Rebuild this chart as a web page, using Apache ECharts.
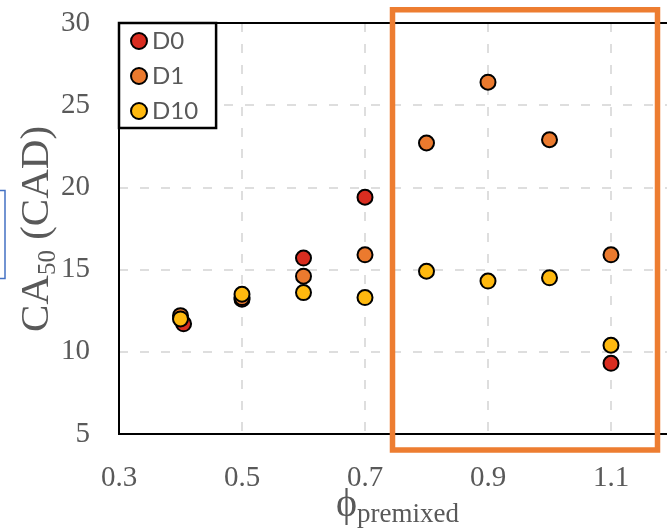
<!DOCTYPE html>
<html>
<head>
<meta charset="utf-8">
<script src="https://cdn.jsdelivr.net/npm/echarts@6/dist/echarts.min.js"></script>
<style>html,body{margin:0;padding:0;background:#fff}#c{width:667px;height:530px}</style>
</head>
<body>
<div id="c"></div>
<script>
// ---- data ----
const seriesNames = ['D0', 'D1', 'D10'];
const d0X = [0.405, 0.5, 0.6, 0.7, 1.1];
const d0Y = [11.7, 13.2, 15.7, 19.4, 9.3];
const d1X = [0.4, 0.5, 0.6, 0.7, 0.8, 0.9, 1.0, 1.1];
const d1Y = [12.2, 13.3, 14.6, 15.9, 22.7, 26.4, 22.9, 15.9];
const d10X = [0.4, 0.5, 0.6, 0.7, 0.8, 0.9, 1.0, 1.1];
const d10Y = [12.0, 13.5, 13.6, 13.3, 14.9, 14.3, 14.5, 10.4];
const xTicks = [0.3, 0.5, 0.7, 0.9, 1.1, 1.3];
const yTicks = [5, 10, 15, 20, 25, 30];

const colors = ['#D92D20', '#EB7A2E', '#FFB90F'];
const pairs = (xs, ys) => xs.map((x, i) => [x, ys[i]]);
const seriesData = [pairs(d0X, d0Y), pairs(d1X, d1Y), pairs(d10X, d10Y)];

const chart = echarts.init(document.getElementById('c'), null, {renderer: 'canvas'});
const serif = '"Liberation Serif", "Times New Roman", serif';
const gray = '#595959';
const gridLine = {show: true, showMinLine: false, showMaxLine: false,
  lineStyle: {color: '#D4D4D4', width: 1.5, type: [9, 12]}};

chart.setOption({
  animation: false,
  backgroundColor: '#fff',
  grid: {left: 119, right: -67, top: 23, bottom: 96, outerBoundsMode: 'none', containLabel: false,
    show: true, borderColor: '#000', borderWidth: 2, backgroundColor: 'transparent', z: 10},
  xAxis: {
    type: 'value', min: xTicks[0], max: xTicks[xTicks.length - 1], interval: 0.2,
    axisLine: {show: true, lineStyle: {color: '#000', width: 2}},
    axisTick: {show: false},
    splitLine: gridLine,
    axisLabel: {color: gray, fontFamily: serif, fontSize: 29, margin: 30, showMaxLabel: false,
      formatter: v => xTicks.find(t => Math.abs(t - v) < 1e-6).toFixed(1)}
  },
  yAxis: {
    type: 'value', min: yTicks[0], max: yTicks[yTicks.length - 1], interval: 5,
    axisLine: {show: true, lineStyle: {color: '#000', width: 2}},
    axisTick: {show: false},
    splitLine: gridLine,
    axisLabel: {color: gray, fontFamily: serif, fontSize: 29, margin: 29}
  },
  legend: {
    data: seriesNames, orient: 'vertical', left: 119, top: 23,
    icon: 'circle', itemWidth: 16, itemHeight: 16, itemGap: 11, itemTextGap: 12,
    padding: [6, 18, 5, 11],
    backgroundColor: '#fff', borderColor: '#000', borderWidth: 2.5,
    textStyle: {color: gray, fontFamily: 'Lato, "Open Sans", sans-serif', fontSize: 24, lineHeight: 24}
  },
  series: seriesNames.map((n, i) => ({
    name: n, type: 'scatter', data: seriesData[i], symbol: 'circle', symbolSize: 15,
    itemStyle: {color: colors[i], borderColor: '#000', borderWidth: 2, opacity: 1},
    z: 3 + i
  })),
  graphic: [
    {type: 'line', shape: {x1: 118, y1: 23, x2: 667, y2: 23},
      style: {stroke: '#000', lineWidth: 2}, z: 50},
    {type: 'rect', shape: {x: 392.5, y: 9.7, width: 265, height: 440.3},
      style: {fill: 'none', stroke: '#ED7D31', lineWidth: 5.5}, z: 100},
    {type: 'rect', shape: {x: -20, y: 190.5, width: 25, height: 88},
      style: {fill: 'none', stroke: '#4472C4', lineWidth: 1.5}, z: 100},
    {type: 'text', x: 37, y: 229, rotation: Math.PI / 2, z: 100,
      style: {text: '{a|CA}{s|50}{a| (CAD)}', align: 'center', verticalAlign: 'middle',
        rich: {
          a: {fontFamily: serif, fontSize: 41, lineHeight: 41, verticalAlign: 'top', fill: gray},
          s: {fontFamily: serif, fontSize: 25, lineHeight: 25, verticalAlign: 'top', padding: [19, 0, 0, 0], fill: gray}
        }}},
    {type: 'text', x: 336, y: 505, z: 100,
      style: {text: '{a|ϕ}{s|premixed}', align: 'left', verticalAlign: 'middle',
        rich: {
          a: {fontFamily: serif, fontSize: 40, lineHeight: 40, verticalAlign: 'top', fill: gray},
          s: {fontFamily: serif, fontSize: 27, lineHeight: 27, verticalAlign: 'top', padding: [16, 0, 0, 0], fill: gray}
        }}}
  ]
});
</script>
</body>
</html>
